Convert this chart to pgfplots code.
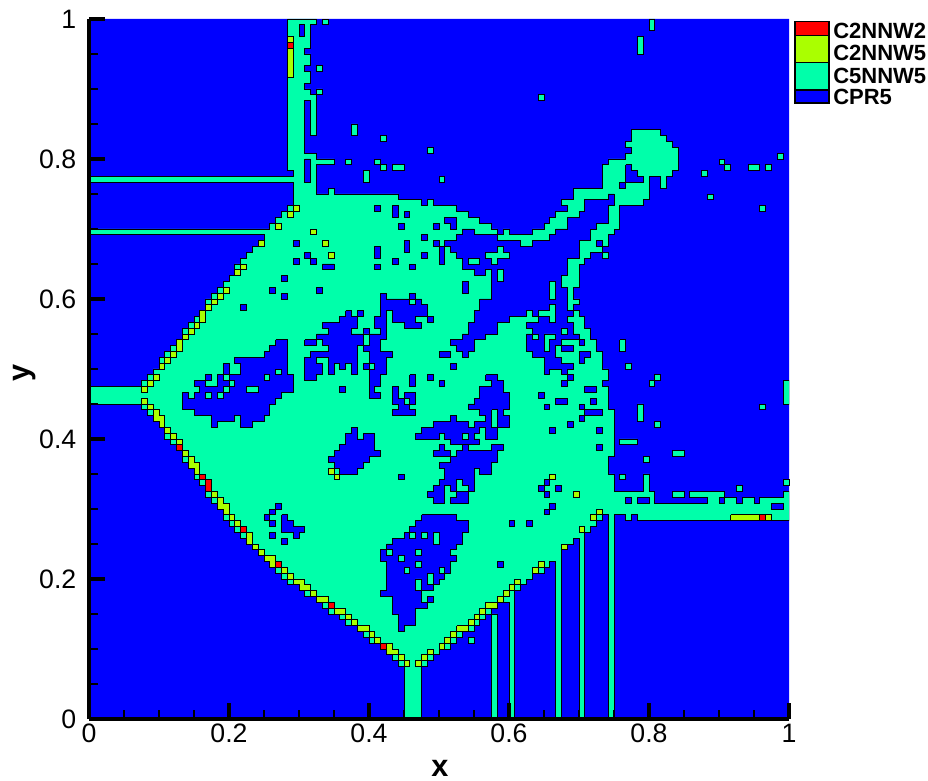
\documentclass[border=0pt]{standalone}
\usepackage{fontspec}
\setmainfont{Liberation Sans}
\usepackage{pgfplots}
\pgfplotsset{compat=1.18}
\definecolor{cA}{RGB}{255,0,0}
\definecolor{cB}{RGB}{170,255,0}
\definecolor{cC}{RGB}{0,255,170}
\definecolor{cD}{RGB}{0,0,255}
% one grid cell: 700 px / 120 cells = 4.375pt
\pgfdeclareplotmark{cell}{%
  \pgfpathrectangle{\pgfqpoint{-2.1875pt}{-2.1875pt}}{\pgfqpoint{4.375pt}{4.375pt}}%
  \pgfusepathqfillstroke}
% all data below: cell corners (column, row from the top) of the 120x120 grid
\pgfplotsset{
  region/.style={fill=#1,draw=black,line width=0.7pt,miter limit=2,mark=none},
  cells/.style={only marks,mark=cell,
    mark options={fill=#1,draw=black,line width=0.7pt}},
}
\begin{document}
\begin{tikzpicture}[x=0.75pt,y=0.75pt]
\path[use as bounding box] (-89,-62) rectangle (839,719);
\begin{axis}[
  scale only axis,width=525pt,height=525pt,
  xmin=0,xmax=1,ymin=0,ymax=1,
  axis lines*=left,axis line style={-,line width=3pt},
  axis on top,
  xtick={0,0.2,...,1},ytick={0,0.2,...,1},minor tick num=3,
  tick align=inside,
  major tick length=12pt,minor tick length=7pt,
  every tick/.style={black},
  major tick style={line width=3pt},minor tick style={line width=0.8pt},
  /pgf/number format/assume math mode=true,
  ticklabel style={font=\fontsize{20}{22}\selectfont},
  yticklabel style={xshift=-6pt},
  xlabel={x},ylabel={y},
  xlabel style={font=\fontsize{23}{25}\selectfont\bfseries,at={(axis description cs:0.5014,-0.07)},anchor=center},
  ylabel style={font=\fontsize{23}{25}\selectfont\bfseries,at={(axis description cs:-0.092,0.4936)},anchor=center},
  unbounded coords=jump,
  x filter/.expression={x/120},
  y filter/.expression={1-y/120},
]
% CPR5
\addplot[fill=cD,draw=none,mark=none] coordinates {(0,0)(120,0)(120,120)(0,120)(0,0)};
% C5NNW5, main region
\addplot[region=cC] coordinates {
(34,0)(39,0)(39,1)(38,1)(38,5)(37,5)(37,6)(38,6)(38,8)(37,8)(37,9)(38,9)(38,11)(37,11)(37,12)(38,12)(38,13)(39,13)(39,12)(40,12)(40,13)(39,13)(39,20)(38,20)(38,14)(37,14)(37,23)(39,23)(39,24)(42,24)(42,25)(39,25)(39,30)(41,30)(41,29)(42,29)(42,30)(53,30)(53,31)(57,31)(57,32)(58,32)(58,31)(59,31)(59,32)(63,32)(63,33)(65,33)(65,34)(67,34)(67,35)(69,35)(69,36)(70,36)(70,37)(71,37)(71,36)(72,36)(72,37)(76,37)(76,36)(78,36)(78,35)(79,35)(79,34)(80,34)(80,33)(82,33)(82,32)(81,32)(81,31)(83,31)(83,29)(88,29)(88,25)(89,25)(89,24)(92,24)(92,23)(93,23)(93,22)(92,22)(92,21)(93,21)(93,19)(98,19)(98,20)(99,20)(99,21)(100,21)(100,22)(101,22)(101,26)(100,26)(100,27)(99,27)(99,29)(98,29)(98,27)(96,27)(96,31)(95,31)(95,32)(91,32)(91,36)(90,36)(90,37)(89,37)(89,39)(88,39)(88,40)(86,40)(86,41)(85,41)(85,42)(84,42)(84,46)(83,46)(83,48)(84,48)(84,49)(83,49)(83,50)(84,50)(84,51)(85,51)(85,53)(86,53)(86,55)(87,55)(87,57)(88,57)(88,60)(89,60)(89,62)(88,62)(88,63)(89,63)(89,67)(90,67)(90,75)(89,75)(89,78)(90,78)(90,81)(95,81)(95,78)(96,78)(96,81)(97,81)(97,83)(106,83)(106,82)(103,82)(103,81)(109,81)(109,82)(111,82)(111,83)(112,83)(112,82)(114,82)(114,83)(115,83)(115,82)(119,82)(119,81)(120,81)(120,86)(94,86)(94,85)(93,85)(93,86)(92,86)(92,85)(90,85)(90,120)(89,120)(89,85)(88,85)(88,86)(87,86)(87,87)(86,87)(86,88)(85,88)(85,120)(84,120)(84,89)(83,89)(83,90)(82,90)(82,91)(81,91)(81,120)(80,120)(80,93)(79,93)(79,94)(78,94)(78,95)(76,95)(76,96)(75,96)(75,97)(74,97)(74,98)(73,98)(73,120)(72,120)(72,100)(70,100)(70,101)(69,101)(69,102)(68,102)(68,103)(67,103)(67,104)(66,104)(66,105)(64,105)(64,106)(63,106)(63,107)(62,107)(62,108)(60,108)(60,109)(59,109)(59,110)(58,110)(58,111)(57,111)(57,120)(54,120)(54,111)(53,111)(53,110)(52,110)(52,109)(51,109)(51,108)(50,108)(50,107)(48,107)(48,106)(47,106)(47,105)(46,105)(46,104)(44,104)(44,103)(43,103)(43,102)(41,102)(41,101)(40,101)(40,100)(39,100)(39,99)(37,99)(37,98)(36,98)(36,97)(34,97)(34,96)(33,96)(33,95)(32,95)(32,94)(31,94)(31,93)(30,93)(30,92)(29,92)(29,91)(28,91)(28,90)(27,90)(27,89)(26,89)(26,88)(25,88)(25,87)(24,87)(24,86)(23,86)(23,84)(22,84)(22,83)(21,83)(21,82)(20,82)(20,80)(19,80)(19,79)(18,79)(18,77)(17,77)(17,76)(16,76)(16,74)(15,74)(15,73)(14,73)(14,72)(13,72)(13,70)(12,70)(12,69)(11,69)(11,68)(10,68)(10,67)(9,67)(9,66)(0,66)(0,63)(9,63)(9,62)(10,62)(10,61)(11,61)(11,60)(12,60)(12,58)(13,58)(13,57)(14,57)(14,56)(15,56)(15,55)(16,55)(16,53)(17,53)(17,52)(18,52)(18,51)(19,51)(19,50)(20,50)(20,48)(21,48)(21,47)(22,47)(22,46)(23,46)(23,45)(24,45)(24,44)(25,44)(25,42)(26,42)(26,41)(27,41)(27,40)(28,40)(28,39)(29,39)(29,38)(30,38)(30,37)(0,37)(0,36)(31,36)(31,35)(32,35)(32,34)(33,34)(33,33)(34,33)(34,32)(35,32)(35,28)(0,28)(0,27)(35,27)(35,26)(34,26)(34,0)
};
% CPR5, enclosed regions
\addplot[region=cD] coordinates {
% bay under the arm
(70,38)(74,38)(74,39)(76,39)(76,38)(79,38)(79,37)(80,37)(80,36)(82,36)(82,34)(84,34)(84,33)(85,33)(85,31)(89,31)(89,30)(90,30)(90,32)(89,32)(89,35)(87,35)(87,36)(86,36)(86,38)(84,38)(84,41)(82,41)(82,44)(81,44)(81,46)(82,46)(82,50)(83,50)(83,51)(82,51)(82,52)(83,52)(83,54)(84,54)(84,55)(81,55)(81,56)(80,56)(80,58)(81,58)(81,59)(83,59)(83,60)(82,60)(82,61)(81,61)(81,60)(79,60)(79,61)(78,61)(78,58)(76,58)(76,57)(75,57)(75,54)(76,54)(76,53)(75,53)(75,52)(77,52)(77,51)(79,51)(79,52)(80,52)(80,49)(79,49)(79,50)(77,50)(77,51)(76,51)(76,50)(75,50)(75,51)(72,51)(72,52)(70,52)(70,54)(68,54)(68,55)(66,55)(66,57)(65,57)(65,58)(64,58)(64,57)(63,57)(63,56)(62,56)(62,55)(64,55)(64,54)(65,54)(65,52)(66,52)(66,50)(67,50)(67,48)(69,48)(69,43)(68,43)(68,44)(66,44)(66,43)(64,43)(64,41)(63,41)(63,40)(62,40)(62,39)(61,39)(61,38)(63,38)(63,37)(64,37)(64,36)(66,36)(66,37)(70,37)(70,38)(nan,nan)
% left hole
(32,55)(34,55)(34,61)(35,61)(35,64)(33,64)(33,65)(32,65)(32,66)(31,66)(31,68)(30,68)(30,69)(28,69)(28,70)(26,70)(26,68)(25,68)(25,69)(22,69)(22,70)(21,70)(21,68)(18,68)(18,67)(16,67)(16,64)(17,64)(17,65)(18,65)(18,64)(19,64)(19,63)(18,63)(18,62)(20,62)(20,63)(22,63)(22,61)(23,61)(23,59)(24,59)(24,61)(26,61)(26,59)(25,59)(25,58)(30,58)(30,57)(31,57)(31,56)(32,56)(32,55)(nan,nan)
% upper middle hole
(44,50)(45,50)(45,51)(46,51)(46,53)(45,53)(45,54)(47,54)(47,53)(48,53)(48,54)(50,54)(50,53)(49,53)(49,51)(50,51)(50,47)(51,47)(51,48)(55,48)(55,47)(56,47)(56,48)(57,48)(57,49)(58,49)(58,51)(56,51)(56,52)(57,52)(57,53)(54,53)(54,52)(52,52)(52,50)(51,50)(51,55)(50,55)(50,57)(52,57)(52,58)(51,58)(51,61)(50,61)(50,63)(49,63)(49,64)(50,64)(50,65)(48,65)(48,60)(47,60)(47,59)(48,59)(48,57)(47,57)(47,56)(46,56)(46,61)(45,61)(45,59)(44,59)(44,60)(43,60)(43,59)(42,59)(42,61)(41,61)(41,58)(39,58)(39,59)(40,59)(40,61)(39,61)(39,62)(37,62)(37,58)(38,58)(38,57)(41,57)(41,56)(40,56)(40,55)(39,55)(39,54)(41,54)(41,53)(40,53)(40,52)(43,52)(43,51)(44,51)(44,50)(nan,nan)
% small holes
(52,63)(53,63)(53,65)(54,65)(54,64)(56,64)(56,66)(55,66)(55,67)(56,67)(56,68)(52,68)(52,67)(53,67)(53,66)(52,66)(52,63)(nan,nan)
(68,61)(70,61)(70,62)(71,62)(71,64)(72,64)(72,67)(71,67)(71,68)(72,68)(72,70)(70,70)(70,72)(68,72)(68,70)(67,70)(67,71)(66,71)(66,72)(67,72)(67,73)(62,73)(62,72)(61,72)(61,71)(60,71)(60,72)(56,72)(56,71)(57,71)(57,70)(59,70)(59,69)(62,69)(62,68)(63,68)(63,69)(65,69)(65,70)(66,70)(66,69)(68,69)(68,68)(67,68)(67,67)(65,67)(65,66)(66,66)(66,65)(67,65)(67,63)(69,63)(69,62)(68,62)(68,61)(nan,nan)
(60,73)(61,73)(61,74)(62,74)(62,75)(59,75)(59,74)(60,74)(60,73)(nan,nan)
(62,75)(63,75)(63,74)(64,74)(64,73)(65,73)(65,74)(69,74)(69,73)(71,73)(71,74)(70,74)(70,76)(69,76)(69,78)(67,78)(67,77)(66,77)(66,81)(65,81)(65,80)(64,80)(64,79)(63,79)(63,81)(62,81)(62,80)(61,80)(61,83)(59,83)(59,82)(58,82)(58,81)(59,81)(59,80)(60,80)(60,79)(61,79)(61,77)(60,77)(60,76)(62,76)(62,75)(nan,nan)
(63,81)(65,81)(65,83)(62,83)(62,82)(63,82)(63,81)(nan,nan)
(45,70)(46,70)(46,72)(47,72)(47,71)(49,71)(49,74)(50,74)(50,75)(48,75)(48,76)(47,76)(47,77)(46,77)(46,78)(43,78)(43,77)(42,77)(42,76)(41,76)(41,75)(42,75)(42,74)(43,74)(43,73)(44,73)(44,71)(45,71)(45,70)(nan,nan)
% lower hole
(57,85)(63,85)(63,86)(65,86)(65,88)(64,88)(64,90)(63,90)(63,91)(62,91)(62,92)(63,92)(63,93)(62,93)(62,95)(61,95)(61,96)(60,96)(60,97)(59,97)(59,98)(57,98)(57,100)(58,100)(58,101)(56,101)(56,104)(54,104)(54,105)(53,105)(53,102)(52,102)(52,99)(50,99)(50,98)(51,98)(51,93)(50,93)(50,91)(51,91)(51,90)(52,90)(52,89)(54,89)(54,88)(55,88)(55,87)(56,87)(56,86)(57,86)(57,85)(nan,nan)
% small shapes
(33,85)(34,85)(34,86)(35,86)(35,87)(37,87)(37,88)(36,88)(36,89)(35,89)(35,88)(33,88)(33,85)(nan,nan)
(61,34)(63,34)(63,36)(62,36)(62,35)(61,35)(61,34)(nan,nan)
(84,57)(86,57)(86,58)(85,58)(85,59)(84,59)(84,57)(nan,nan)
(92,25)(93,25)(93,26)(94,26)(94,27)(95,27)(95,28)(92,28)(92,25)(nan,nan)
% rectangles
(36,1)(37,1)(37,3)(36,3)(36,1)(nan,nan)(37,24)(38,24)(38,28)(37,28)(37,24)(nan,nan)
(52,32)(53,32)(53,34)(52,34)(52,32)(nan,nan)(54,38)(55,38)(55,40)(54,40)(54,38)(nan,nan)
(49,39)(50,39)(50,41)(49,41)(49,39)(nan,nan)(40,42)(42,42)(42,43)(40,43)(40,42)(nan,nan)
(60,39)(61,39)(61,42)(60,42)(60,39)(nan,nan)(64,45)(65,45)(65,47)(64,47)(64,45)(nan,nan)
(37,55)(39,55)(39,56)(37,56)(37,55)(nan,nan)(60,57)(62,57)(62,58)(60,58)(60,57)(nan,nan)
(55,61)(56,61)(56,63)(55,63)(55,61)(nan,nan)(85,63)(87,63)(87,64)(85,64)(85,63)(nan,nan)
(85,67)(88,67)(88,68)(85,68)(85,67)(nan,nan)(80,65)(82,65)(82,66)(80,66)(80,65)(nan,nan)
(81,56)(83,56)(83,57)(81,57)(81,56)(nan,nan)(94,82)(96,82)(96,83)(94,83)(94,82)(nan,nan)
(117,83)(119,83)(119,84)(117,84)(117,83)
};
\addplot[cells=cD] coordinates {
(49.5,32.5)(54.5,33.5)(53.5,35.5)(59.5,35.5)(57.5,37.5)(59.5,38.5)(57.5,40.5)(52.5,41.5)(49.5,42.5)(55.5,42.5)
(35.5,38.5)(37.5,40.5)(35.5,41.5)(38.5,41.5)(33.5,44.5)(31.5,46.5)(39.5,46.5)(33.5,47.5)(26.5,49.5)(46.5,50.5)
(58.5,51.5)(43.5,63.5)(62.5,59.5)(58.5,61.5)(60.5,62.5)(53.5,78.5)(78.5,79.5)(77.5,80.5)(78.5,81.5)(80.5,80.5)
(78.5,84.5)(79.5,83.5)(72.5,86.5)(75.5,86.5)(70.5,93.5)(58.5,99.5)(32.5,83.5)(31.5,84.5)(30.5,85.5)(31.5,86.5)
(31.5,88.5)(33.5,89.5)(84.5,55.5)(82.5,61.5)(81.5,62.5)(86.5,65.5)(84.5,66.5)(84.5,68.5)(82.5,69.5)(87.5,70.5)
(87.5,73.5)(79.5,70.5)(77.5,64.5)(78.5,66.5)(92.5,82.5)(108.5,82.5)(91.5,28.5)(87.5,38.5)(47.5,59.5)(20.5,61.5)
};
% C5NNW5, patches lying in CPR5
\addplot[region=cC] coordinates {
(78,54)(80,54)(80,55)(79,55)(79,57)(78,57)(78,54)(nan,nan)
(68,40)(70,40)(70,39)(71,39)(71,40)(72,40)(72,41)(70,41)(70,42)(69,42)(69,41)(68,41)(68,40)(nan,nan)
(45,18)(46,18)(46,20)(45,20)(45,18)(nan,nan)(47,26)(48,26)(48,28)(47,28)(47,26)(nan,nan)
(52,25)(54,25)(54,26)(52,26)(52,25)(nan,nan)(96,0)(97,0)(97,2)(96,2)(96,0)(nan,nan)
(94,3)(95,3)(95,6)(94,6)(94,3)(nan,nan)(113,25)(115,25)(115,26)(113,26)(113,25)(nan,nan)
(91,55)(92,55)(92,57)(91,57)(91,55)(nan,nan)(94,66)(95,66)(95,69)(94,69)(94,66)(nan,nan)
(91,72)(94,72)(94,73)(91,73)(91,72)(nan,nan)(100,74)(102,74)(102,75)(100,75)(100,74)(nan,nan)
(100,81)(102,81)(102,82)(100,82)(100,81)(nan,nan)(119,62)(120,62)(120,66)(119,66)(119,62)(nan,nan)
(65,41)(67,41)(67,42)(65,42)(65,41)(nan,nan)(70,43)(71,43)(71,45)(70,45)(70,43)(nan,nan)
(79,45)(80,45)(80,48)(79,48)(79,45)(nan,nan)(27,63)(29,63)(29,64)(27,64)(27,63)(nan,nan)
(47,54)(48,54)(48,56)(47,56)(47,54)(nan,nan)(69,67)(70,67)(70,70)(69,70)(69,67)(nan,nan)
(59,88)(60,88)(60,90)(59,90)(59,88)(nan,nan)(56,96)(57,96)(57,98)(56,98)(56,96)(nan,nan)
(58,95)(59,95)(59,97)(58,97)(58,95)(nan,nan)(69,102)(70,102)(70,120)(69,120)(69,102)
};
\addplot[cells=cC] coordinates {
(40.5,0.5)(39.5,8.5)(44.5,24.5)(49.5,24.5)(50.5,20.5)(58.5,22.5)(50.5,25.5)(60.5,27.5)(77.5,13.5)(105.5,26.5)
(106.5,30.5)(108.5,24.5)(109.5,25.5)(116.5,25.5)(118.5,23.5)(115.5,32.5)(92.5,59.5)(97.5,61.5)(96.5,62.5)(97.5,69.5)
(95.5,75.5)(91.5,78.5)(111.5,80.5)(115.5,66.5)(119.5,79.5)(88.5,40.5)(20.5,64.5)(22.5,64.5)(23.5,61.5)(24.5,62.5)
(23.5,63.5)(30.5,61.5)(32.5,60.5)(55.5,48.5)(48.5,59.5)(54.5,65.5)(64.5,71.5)(55.5,88.5)(57.5,88.5)(51.5,91.5)
(56.5,91.5)(53.5,92.5)(56.5,93.5)(54.5,94.5)(60.5,94.5)(65.5,106.5)(76.5,54.5)(81.5,53.5)
};
% C2NNW5
\addplot[region=cB] coordinates {
(34,5)(35,5)(35,10)(34,10)(34,5)(nan,nan)(19,50)(20,50)(20,52)(19,52)(19,50)(nan,nan)
(15,55)(16,55)(16,57)(15,57)(15,55)(nan,nan)(27,88)(28,88)(28,90)(27,90)(27,88)(nan,nan)
(11,67)(12,67)(12,68)(13,68)(13,70)(12,70)(12,69)(11,69)(11,67)(nan,nan)
(17,75)(18,75)(18,76)(19,76)(19,78)(18,78)(18,77)(17,77)(17,75)(nan,nan)
(22,82)(23,82)(23,83)(24,83)(24,85)(23,85)(23,84)(22,84)(22,82)(nan,nan)
(30,92)(32,92)(32,94)(31,94)(31,93)(30,93)(30,92)(nan,nan)
(35,96)(37,96)(37,97)(38,97)(38,98)(36,98)(36,97)(35,97)(35,96)(nan,nan)
(39,99)(41,99)(41,100)(39,100)(39,99)(nan,nan)(42,101)(44,101)(44,102)(42,102)(42,101)(nan,nan)
(46,104)(48,104)(48,105)(46,105)(46,104)(nan,nan)
(51,107)(52,107)(52,108)(53,108)(53,109)(51,109)(51,107)(nan,nan)
(63,104)(65,104)(65,105)(63,105)(63,104)(nan,nan)(68,100)(70,100)(70,101)(68,101)(68,100)(nan,nan)
(110,85)(115,85)(115,86)(110,86)(110,85)
};
\addplot[cells=cB] coordinates {
(34.5,3.5)(35.5,32.5)(34.5,33.5)(32.5,35.5)(38.5,36.5)(29.5,38.5)(40.5,38.5)(41.5,40.5)(26.5,42.5)(25.5,43.5)
(23.5,46.5)(22.5,47.5)(21.5,48.5)(20.5,49.5)(18.5,52.5)(17.5,53.5)(16.5,54.5)(14.5,57.5)(13.5,58.5)(12.5,59.5)
(11.5,61.5)(10.5,62.5)(9.5,63.5)(9.5,65.5)(10.5,66.5)(13.5,70.5)(14.5,71.5)(15.5,72.5)(16.5,74.5)(21.5,81.5)
(24.5,85.5)(25.5,86.5)(28.5,90.5)(29.5,91.5)(33.5,94.5)(34.5,95.5)(38.5,98.5)(44.5,102.5)(45.5,103.5)(48.5,105.5)
(49.5,106.5)(53.5,109.5)(54.5,110.5)(56.5,110.5)(57.5,109.5)(58.5,108.5)(60.5,107.5)(61.5,106.5)(62.5,105.5)(65.5,103.5)
(66.5,102.5)(67.5,101.5)(70.5,99.5)(71.5,98.5)(72.5,97.5)(73.5,96.5)(76.5,94.5)(77.5,93.5)(81.5,90.5)(84.5,87.5)
(86.5,85.5)(87.5,84.5)(79.5,78.5)(83.5,81.5)(41.5,77.5)(42.5,78.5)(116.5,85.5)
};
% C2NNW2
\addplot[region=cA] coordinates {(20,79)(21,79)(21,81)(20,81)(20,79)};
\addplot[cells=cA] coordinates {
(34.5,4.5)(15.5,73.5)(19.5,78.5)(26.5,87.5)(32.5,93.5)(41.5,100.5)(50.5,107.5)(115.5,85.5)
};
\end{axis}
% legend
\draw[fill=cA,line width=0.9pt] (706,697.7) rectangle (740,683.7);
\draw[fill=cB,line width=0.9pt] (706,683.7) rectangle (740,656.7);
\draw[fill=cC,line width=0.9pt] (706,656.7) rectangle (740,629);
\draw[fill=cD,line width=0.9pt] (706,629) rectangle (740,616);
\begin{scope}[every node/.style={anchor=west,inner sep=0pt,font=\fontsize{16.5}{18}\selectfont\bfseries}]
\node at (744,688) {C2NNW2};
\node at (744,666.3) {C2NNW5};
\node at (744,643.3) {C5NNW5};
\node at (744,621.7) {CPR5};
\end{scope}
\end{tikzpicture}
\end{document}
